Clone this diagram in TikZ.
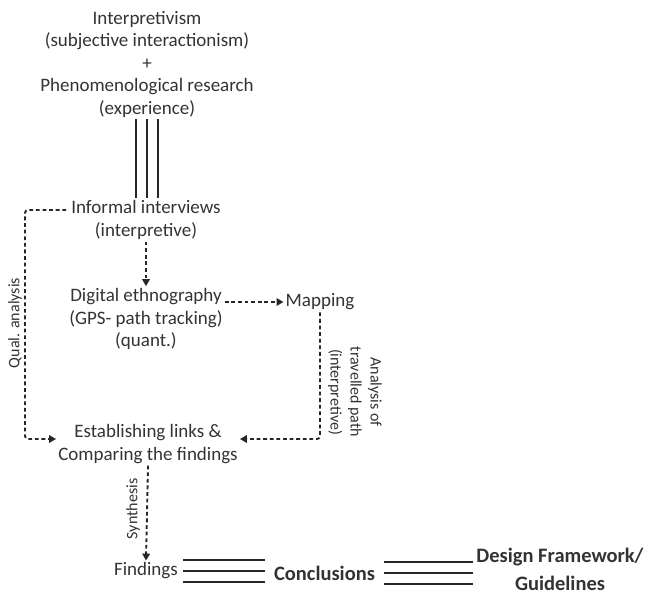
\documentclass[tikz,border=0pt]{standalone}
\usepackage{fontspec}
\setmainfont{Carlito}
\usetikzlibrary{arrows.meta}
\definecolor{txt}{HTML}{333333}
\tikzset{
  lbl/.style={text=txt, align=center, inner sep=2pt, font=\fontsize{19}{22.5}\selectfont},
  blbl/.style={lbl, font=\fontsize{20.5}{28}\selectfont\bfseries},
  side/.style={text=txt, align=center, inner sep=1pt, font=\fontsize{16}{20}\selectfont},
  dasharrow/.style={line width=1.9pt, dash pattern=on 3.8pt off 2.8pt, -{Triangle[length=7pt,width=7.5pt]}, draw=black!85},
  solidline/.style={line width=1.8pt, draw=black!85}
}
\begin{document}
\begin{tikzpicture}[x=1pt,y=-1pt]
\useasboundingbox (0,0) rectangle (650,596);
\node[lbl] (top) at (147,64) {Interpretivism\\(subjective interactionism)\\+\\Phenomenological research\\(experience)};
\node[lbl] (inf) at (146,220) {Informal interviews\\(interpretive)};
\node[lbl] (dig) at (146,319) {Digital ethnography\\(GPS- path tracking)\\(quant.)};
\node[lbl] (map) at (320,302) {Mapping};
\node[lbl] (est) at (148,444) {Establishing links \&\\Comparing the findings};
\node[lbl] (find) at (146,571) {Findings};
\node[blbl] (conc) at (324.5,573) {Conclusions};
\node[blbl] (des) at (560,569.5) {Design Framework/\\Guidelines};

\node[side, rotate=90] (qal) at (15,323) {Qual. analysis};
\node[side, rotate=-90] (atp) at (355,392) {Analysis of\\travelled path\\(interpretive)};
\node[side, rotate=90] (syn) at (133,509) {Synthesis};

\coordinate (q1) at (25,210);
\coordinate (q2) at (25,439);
\coordinate (m2) at (320,439);

% triple vertical lines
\foreach \dx in {-11,0,11}
  \draw[solidline] ([xshift=\dx pt]top.south) -- ([xshift=\dx pt]top.south |- inf.north);

\draw[dasharrow] (inf.south) -- (dig.north);
\draw[dasharrow] (dig.east |- map.west) -- (map.west);
\draw[dasharrow, rounded corners=3pt] (map.south) -- (m2) -- (est.east |- m2);
\draw[dasharrow, rounded corners=3pt] ([xshift=-3pt]inf.west |- q1) -- (q1) -- (q2) -- (est.west |- q2);
\draw[dasharrow] (est.south) -- (find.north);

% triple horizontal lines
\foreach \dy in {-11,0,11}{
  \draw[solidline, shorten <=3pt, shorten >=7pt] ([yshift=\dy pt]find.east) -- ([yshift=\dy pt]find.east -| conc.west);
  \draw[solidline, shorten <=7pt, shorten >=1pt] ([yshift=\dy pt]conc.east) -- ([yshift=\dy pt]conc.east -| des.west);
}
\end{tikzpicture}
\end{document}
